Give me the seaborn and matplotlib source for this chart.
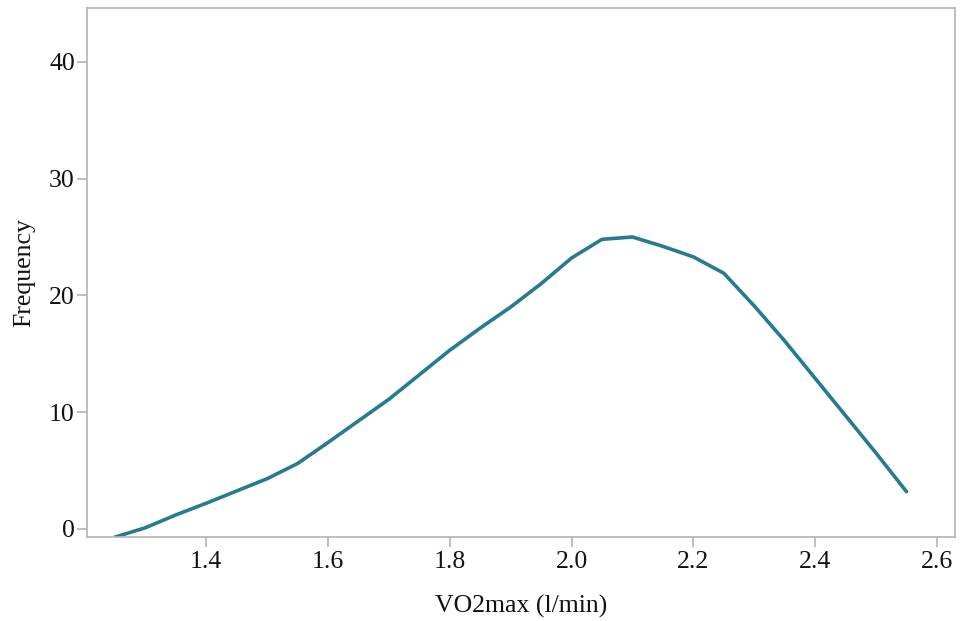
import numpy as np
import pandas as pd
import matplotlib
matplotlib.use('Agg')
import matplotlib.pyplot as plt
import seaborn as sns

# значения
vo2max = [1.25, 1.30, 1.35, 1.40, 1.45, 1.50, 1.55, 1.60, 1.65, 1.70, 1.75,
          1.80, 1.85, 1.90, 1.95, 2.00, 2.05, 2.10, 2.15, 2.20, 2.25, 2.30,
          2.35, 2.40, 2.45, 2.50, 2.55]
frequency = [-0.7, 0.1, 1.2, 2.2, 3.25, 4.3, 5.6, 7.4, 9.25, 11.1, 13.2,
             15.3, 17.2, 19.0, 21.0, 23.2, 24.8, 25.0, 24.2, 23.3, 21.9, 19.1,
             16.1, 12.9, 9.7, 6.5, 3.2]

df = pd.DataFrame({'VO2max (l/min)': vo2max, 'Frequency': frequency})

sns.set_theme(style='white')
plt.rcParams['font.family'] = ['Liberation Serif', 'DejaVu Serif']

fig, ax = plt.subplots(figsize=(9.6, 6.21), dpi=100)
sns.lineplot(data=df, x='VO2max (l/min)', y='Frequency', ax=ax,
             color='#267b91', linewidth=2.6)

ax.set_xlim(1.205, 2.63)
ax.set_ylim(-0.7, 44.6)
ax.set_xticks([1.4, 1.6, 1.8, 2.0, 2.2, 2.4, 2.6])
ax.set_yticks([0, 10, 20, 30, 40])
ax.set_xticklabels(['1.4', '1.6', '1.8', '2.0', '2.2', '2.4', '2.6'])

for s in ax.spines.values():
    s.set_color('#b4b4b4')
    s.set_linewidth(1.2)
ax.tick_params(axis='both', which='major', direction='out', length=7,
               width=1.2, color='#b4b4b4', labelsize=18.5, labelcolor='#111111',
               bottom=True, left=True)
ax.tick_params(axis='x', pad=3)
ax.tick_params(axis='y', pad=2)
ax.set_xlabel('VO2max (l/min)', fontsize=18.5, color='#111111', labelpad=16)
ax.set_ylabel('Frequency', fontsize=18.5, color='#111111', labelpad=10)

fig.subplots_adjust(left=0.091, right=0.995, top=0.987, bottom=0.135)
fig.savefig('out.png', dpi=100)
